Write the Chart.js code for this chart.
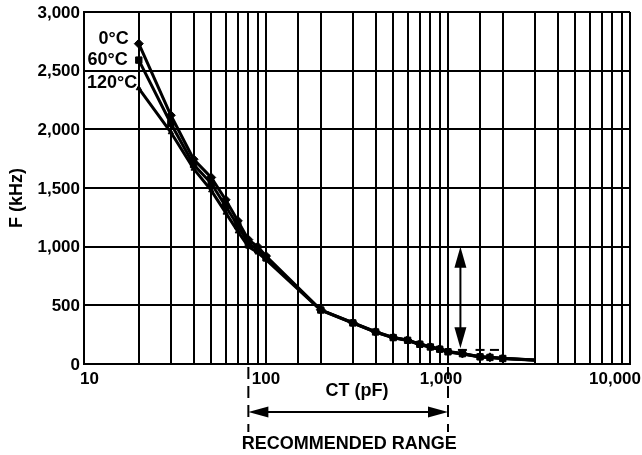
<!DOCTYPE html>
<html><head><meta charset="utf-8">
<script src="https://cdn.jsdelivr.net/npm/chart.js@4"></script>
<style>html,body{margin:0;padding:0;background:#fff}#wrap{width:642px;height:455px}</style>
</head><body><div id="wrap"><canvas id="c" width="642" height="455"></canvas></div>
<script>
// ---- data ----
const capacitance = [20,30,40,50,60,70,80,90,100,200,300,400,500,600,700,800,900,1000,1200,1500,1700,2000,3000];
const freq0C   = [2730,2120,1745,1590,1400,1220,1060,1000,920,462,352,275,227,204,170,147,128,106,90,62,57,48,35];
const freq60C  = [2590,2050,1700,1540,1345,1180,1030,975,905,460,350,273,225,202,168,145,126,104,88,61,56,47,34];
const freq120C = [2350,1975,1665,1480,1290,1130,1000,950,890,458,348,271,223,200,166,143,124,102,86,60,55,46,33];
const dashCap  = [1200,1500,1800];
const dashFreq = [120,120,120];
const seriesLabels = ['0°C','60°C','120°C'];
const xTickValues = [10,100,1000,10000];
const xTickLabels = ['10','100','1,000','10,000'];
const yTickValues = [0,500,1000,1500,2000,2500,3000];
const yTickLabels = ['0','500','1,000','1,500','2,000','2,500','3,000'];
const rangeCap = [80,1000];
const arrowCap = 1170;
const arrowFreq = [1000,135];
const xTitle = 'CT (pF)';
const yTitle = 'F (kHz)';
const rangeTitle = 'RECOMMENDED RANGE';

const FONT = '"Liberation Sans", Arial, Helvetica, sans-serif';
const pts = arr => capacitance.map((c,i)=>({x:c,y:arr[i]}));
const lastHidden = r => (ctx => ctx.dataIndex === capacitance.length-1 ? 0 : r);

function head(ctx, tx, ty, dx, dy, len, half){
  ctx.beginPath();
  ctx.moveTo(tx,ty);
  ctx.lineTo(tx - dx*len - dy*half, ty - dy*len + dx*half);
  ctx.lineTo(tx - dx*len + dy*half, ty - dy*len - dx*half);
  ctx.closePath(); ctx.fill();
}

const overlay = {
  id:'overlay',
  afterDraw(chart){
    const {ctx, chartArea:ca} = chart;
    const x = chart.scales.x, y = chart.scales.y;
    ctx.save();
    ctx.fillStyle='#000'; ctx.strokeStyle='#000';
    ctx.font = 'bold 17px ' + FONT;
    ctx.textBaseline='middle';
    ctx.textAlign='right';
    yTickValues.forEach((v,i)=>ctx.fillText(yTickLabels[i], ca.left-4, y.getPixelForValue(v)+1));
    ctx.textAlign='center';
    const nudge=[0,0,-7,0];
    xTickValues.forEach((v,i)=>{
      const w = ctx.measureText(xTickLabels[i]).width;
      let px = x.getPixelForValue(v)+nudge[i];
      px = Math.min(Math.max(px, ca.left-4+w/2), chart.width-1-w/2);
      ctx.fillText(xTickLabels[i], px, ca.bottom+15);
    });
    ctx.font = 'bold 18px ' + FONT;
    ctx.fillText(xTitle, (ca.left+ca.right)/2, ca.bottom+27);
    ctx.save();
    ctx.translate(17, 198); ctx.rotate(-Math.PI/2);
    ctx.fillText(yTitle, 0, 0);
    ctx.restore();
    // series labels near first points
    ctx.textAlign='right';
    const sets=[freq0C,freq60C,freq120C];
    const offs=[[-10,-5],[-11,0],[-1.5,-5]];
    sets.forEach((s,i)=>{
      const px=x.getPixelForValue(capacitance[0]), py=y.getPixelForValue(s[0]);
      ctx.fillText(seriesLabels[i], px+offs[i][0], py+offs[i][1]);
    });
    // recommended range
    const x1=x.getPixelForValue(rangeCap[0]), x2=x.getPixelForValue(rangeCap[1]);
    ctx.lineWidth=2;
    ctx.setLineDash([12,7]);
    [x1,x2].forEach(px=>{ctx.beginPath();ctx.moveTo(px,ca.bottom+3);ctx.lineTo(px,432);ctx.stroke();});
    ctx.setLineDash([]);
    const ay=412;
    ctx.beginPath(); ctx.moveTo(x1+10,ay); ctx.lineTo(x2-10,ay); ctx.stroke();
    head(ctx,x1,ay,-1,0,20,5.5); head(ctx,x2,ay,1,0,20,5.5);
    ctx.textAlign='center';
    ctx.fillText(rangeTitle,(x1+x2)/2+1,444);
    // vertical arrow
    const vx=x.getPixelForValue(arrowCap), vt=y.getPixelForValue(arrowFreq[0]), vb=y.getPixelForValue(arrowFreq[1]);
    ctx.beginPath(); ctx.moveTo(vx,vt+10); ctx.lineTo(vx,vb-10); ctx.stroke();
    head(ctx,vx,vt,0,-1,21,6); head(ctx,vx,vb,0,1,21,6);
    ctx.restore();
  }
};

new Chart(document.getElementById('c'), {
  type:'line',
  data:{datasets:[
    {label:seriesLabels[0], data:pts(freq0C), borderColor:'#000', backgroundColor:'#000', borderWidth:3, pointStyle:'rectRot', pointRadius:lastHidden(4.5), pointBorderWidth:1, tension:0},
    {label:seriesLabels[1], data:pts(freq60C), borderColor:'#000', backgroundColor:'#000', borderWidth:3, pointStyle:'rect', pointRadius:lastHidden(4.5), pointBorderWidth:1, tension:0},
    {label:seriesLabels[2], data:pts(freq120C), borderColor:'#000', backgroundColor:'#000', borderWidth:3, pointStyle:'triangle', pointRadius:lastHidden(3), pointBorderWidth:1, tension:0},
    {label:'', data:dashCap.map((c,i)=>({x:c,y:dashFreq[i]})), showLine:false, borderColor:'#000', backgroundColor:'#000', pointStyle:'line', pointRadius:4.5, pointBorderWidth:2}
  ]},
  options:{
    responsive:false, animation:false, devicePixelRatio:1,
    layout:{padding:{left:84,top:12,right:12,bottom:91}},
    plugins:{legend:{display:false}, tooltip:{enabled:false}},
    scales:{
      x:{type:'logarithmic', min:10, max:10000,
         ticks:{display:false, autoSkip:false},
         grid:{color:'#000', lineWidth:2, drawTicks:false},
         border:{color:'#000', width:2}},
      y:{type:'linear', min:0, max:3000,
         ticks:{display:false, stepSize:500},
         grid:{color:'#000', lineWidth:2, drawTicks:false},
         border:{color:'#000', width:2}}
    }
  },
  plugins:[overlay]
});
</script></body></html>
